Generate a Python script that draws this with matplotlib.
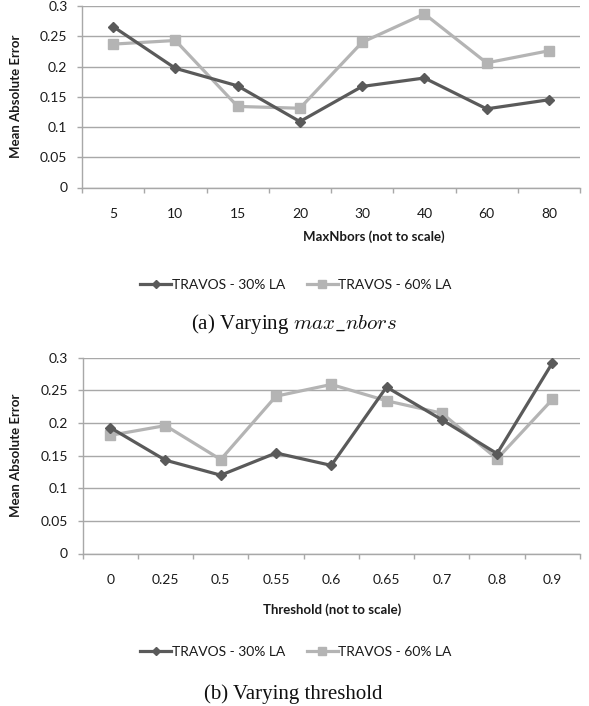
import numpy as np
import matplotlib
matplotlib.use("Agg")
import matplotlib.pyplot as plt

# ---- data ----
maxnbors_labels = ["5", "10", "15", "20", "30", "40", "60", "80"]
maxnbors_30 = [0.266, 0.197, 0.168, 0.109, 0.167, 0.181, 0.130, 0.145]
maxnbors_60 = [0.237, 0.243, 0.134, 0.131, 0.240, 0.287, 0.206, 0.226]

threshold_labels = ["0", "0.25", "0.5", "0.55", "0.6", "0.65", "0.7", "0.8", "0.9"]
threshold_30 = [0.193, 0.143, 0.120, 0.154, 0.135, 0.255, 0.205, 0.153, 0.292]
threshold_60 = [0.181, 0.196, 0.144, 0.241, 0.259, 0.234, 0.215, 0.145, 0.236]

series_names = ["TRAVOS - 30% LA", "TRAVOS - 60% LA"]
yticks = [0, 0.05, 0.1, 0.15, 0.2, 0.25, 0.3]
ytick_labels = ["0", "0.05", "0.1", "0.15", "0.2", "0.25", "0.3"]

# ---- style ----
plt.rcParams['font.family'] = ['Lato', 'DejaVu Sans']
plt.rcParams['mathtext.fontset'] = 'cm'
DARK = "#5a5a5a"
LIGHT = "#b4b4b4"
GRID = "#a8a8a8"
TXT = "#1a1a1a"
W, H = 589, 706
fig = plt.figure(figsize=(W / 100, H / 100), dpi=100)


def px(x, y):
    return x / W, 1 - y / H


def make_panel(rect, labels, s30, s60, xlabel, xlab_pos, leg_y, caption, cap_pos):
    left, top, right, bottom = rect
    ax = fig.add_axes([left / W, 1 - bottom / H, (right - left) / W, (bottom - top) / H])
    n = len(labels)
    x = np.arange(n)
    ax.plot(x, s30, color=DARK, lw=2.3, marker='D', ms=5.2, label=series_names[0], zorder=3)
    ax.plot(x, s60, color=LIGHT, lw=2.3, marker='s', ms=7.5, label=series_names[1], zorder=2)
    ax.set_xlim(-0.5, n - 0.5)
    ax.set_ylim(0, 0.3)
    ax.set_yticks(yticks)
    ax.set_yticklabels(ytick_labels)
    ax.yaxis.grid(True, color=GRID, lw=1.0)
    ax.set_axisbelow(True)
    ax.set_xticks(np.arange(n + 1) - 0.5)
    ax.set_xticklabels([""] * (n + 1))
    ax.set_xticks(x, minor=True)
    ax.set_xticklabels(labels, minor=True)
    ax.tick_params(axis='x', which='major', length=3.5, color=GRID, width=1)
    ax.tick_params(axis='x', which='minor', length=0, pad=15, labelsize=10, labelcolor=TXT)
    ax.tick_params(axis='y', length=3.5, color=GRID, width=1, pad=7, labelsize=10, labelcolor=TXT)
    for s in ['top', 'right']:
        ax.spines[s].set_visible(False)
    for s in ['left', 'bottom']:
        ax.spines[s].set_color(GRID)
        ax.spines[s].set_linewidth(1)
    ax.set_ylabel("Mean Absolute Error", fontweight='bold', fontsize=9.5, color=TXT)
    ax.yaxis.set_label_coords((22 - left) / (right - left), 0.5)
    fig.text(*px(*xlab_pos), xlabel, ha='center', va='center', fontweight='bold', fontsize=9.5, color=TXT)
    handles, lbls = ax.get_legend_handles_labels()
    fig.legend(handles, lbls, loc='center', bbox_to_anchor=px(296, leg_y), ncol=2, frameon=False,
               fontsize=10, handlelength=2.2, handletextpad=0.05, columnspacing=1.6, markerscale=0.75,
               labelcolor=TXT)
    fig.text(*px(*cap_pos), caption, ha='center', va='center', fontsize=15,
             family='Liberation Serif', color="#111111")
    return ax


make_panel((82, 6, 580, 187.5), maxnbors_labels, maxnbors_30, maxnbors_60,
           "MaxNbors (not to scale)", (374, 237), 285, r"(a) Varying $max\_nbors$", (294, 324))
make_panel((82.5, 357.7, 580, 553.5), threshold_labels, threshold_30, threshold_60,
           "Threshold (not to scale)", (332, 610), 652, "(b) Varying threshold", (293, 694))

fig.savefig("out.png", dpi=100)
